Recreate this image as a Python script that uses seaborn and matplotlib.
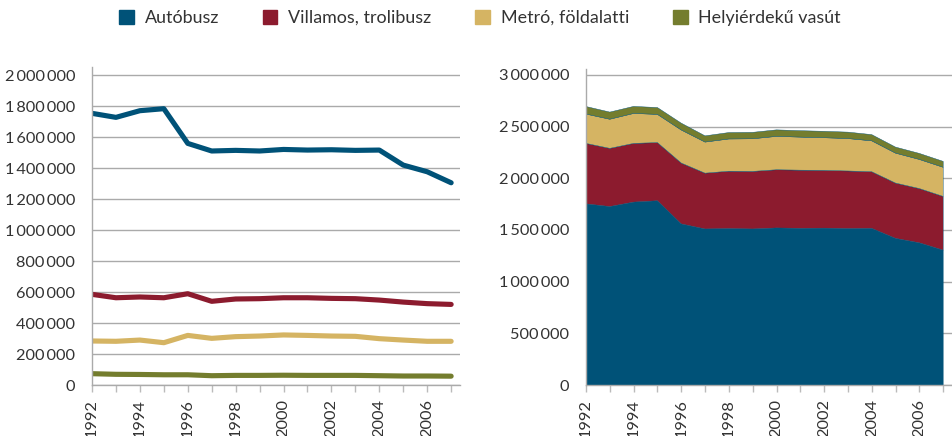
import matplotlib
matplotlib.use("Agg")
import matplotlib.pyplot as plt
import matplotlib.ticker as mticker
from matplotlib.patches import Patch
import seaborn as sns
import pandas as pd

years = list(range(1992, 2008))
series_names = ["Autóbusz", "Villamos, trolibusz", "Metró, földalatti", "Helyiérdekű vasút"]
autobusz = [1753000, 1727000, 1770000, 1783000, 1559000, 1510000, 1514000, 1510000,
            1520000, 1516000, 1518000, 1514000, 1516000, 1419000, 1376000, 1305000]
villamos = [585000, 563000, 568000, 563000, 589000, 540000, 555000, 557000,
            563000, 563000, 559000, 557000, 548000, 535000, 525000, 520000]
metro = [284000, 282000, 290000, 273000, 320000, 301000, 312000, 316000,
         323000, 320000, 316000, 314000, 299000, 290000, 282000, 282000]
hev = [73000, 69000, 68000, 66000, 66000, 60000, 62000, 62000,
       63000, 62000, 62000, 62000, 60000, 58000, 58000, 57000]
colors = ["#005278", "#8C1B2E", "#D5B463", "#747D2E"]

sns.set_theme(style="white")
plt.rcParams["font.family"] = ["Lato", "DejaVu Sans"]
text_color = "#333333"
grid_color = "#AAAAAA"

df = pd.DataFrame({"year": years * 4,
                   "value": autobusz + villamos + metro + hev,
                   "series": sum([[n] * len(years) for n in series_names], [])})

fig = plt.figure(figsize=(9.52, 4.36), dpi=100)
W, H = 952, 436
ax1 = fig.add_axes([92 / W, (H - 385) / H, 368 / W, 318 / H])
ax2 = fig.add_axes([586 / W, (H - 385) / H, 366 / W, 316 / H])

sns.lineplot(data=df, x="year", y="value", hue="series", palette=colors,
             hue_order=series_names, linewidth=3.7, ax=ax1, legend=False)
for l in ax1.lines:
    l.set_solid_capstyle("round")
    l.set_solid_joinstyle("round")

ax2.stackplot(years, autobusz, villamos, metro, hev, colors=colors, linewidth=0.3,
              edgecolors=colors)

def fmt(v, pos):
    s = f"{int(round(v)):,}".replace(",", "\u2009")
    return s

for ax, ytop, step in [(ax1, 2052000, 200000), (ax2, 3058000, 500000)]:
    ax.set_xlim(1992, 2007.37)
    ax.set_ylim(0, ytop)
    ax.yaxis.set_major_locator(mticker.MultipleLocator(step))
    ax.yaxis.set_major_formatter(mticker.FuncFormatter(fmt))
    ax.set_xticks(years)
    ax.set_xticklabels([str(y) if y % 2 == 0 else "" for y in years], rotation=90)
    ax.grid(axis="y", color=grid_color, linewidth=1.0)
    ax.set_axisbelow(True)
    for s in ["top", "right"]:
        ax.spines[s].set_visible(False)
    for s in ["left", "bottom"]:
        ax.spines[s].set_color(grid_color)
        ax.spines[s].set_linewidth(1.0)
    ax.tick_params(axis="y", length=7, width=1, color=grid_color, pad=5,
                   labelsize=11.8, labelcolor=text_color)
    ax.tick_params(axis="x", length=5, width=1, color="#BBBBBB", pad=5,
                   labelsize=11.8, labelcolor=text_color, bottom=True)
    ax.set_xlabel("")
    ax.set_ylabel("")

handles = [Patch(facecolor=c, edgecolor=c) for c in colors]
fig.legend(handles, series_names, loc="center", bbox_to_anchor=(480 / W, 1 - 18 / H),
           ncol=4, frameon=False, fontsize=12.9, handlelength=0.82, handleheight=0.82,
           handletextpad=0.6, columnspacing=2.45, labelcolor=text_color)

fig.savefig("out.png", dpi=100)
